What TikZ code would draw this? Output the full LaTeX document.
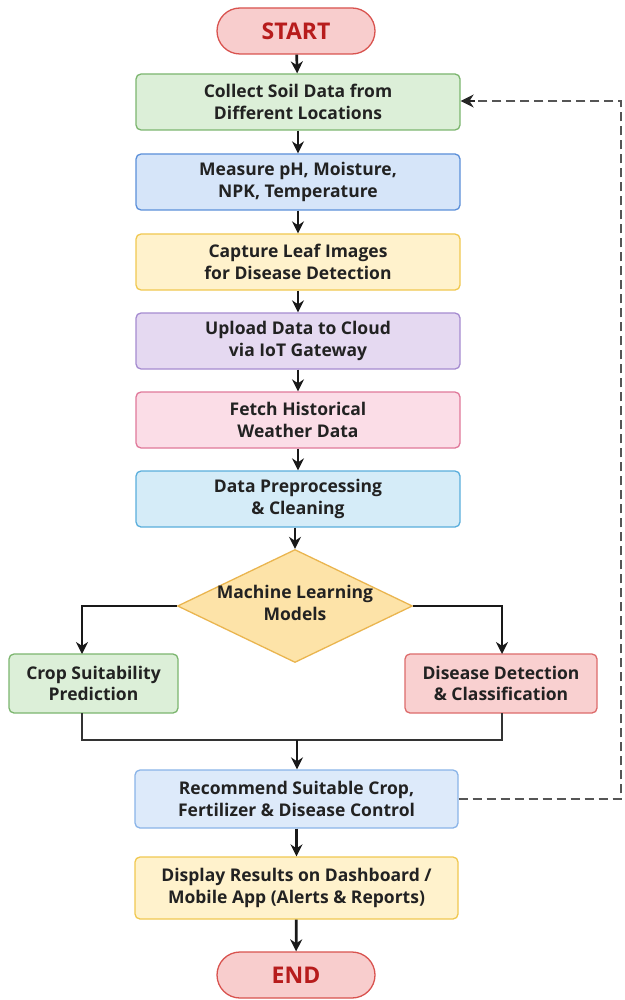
\documentclass[tikz,border=0pt]{standalone}
\usepackage{fontspec}
\setmainfont{Open Sans}
\usetikzlibrary{shapes.geometric,shapes.misc,arrows.meta}
\definecolor{txt}{HTML}{222222}
\definecolor{termfill}{HTML}{F8CDCD}
\definecolor{termdraw}{HTML}{D9534F}
\definecolor{termtxt}{HTML}{B71C1C}
\definecolor{grfill}{HTML}{DCEFD8}
\definecolor{grdraw}{HTML}{7CB66F}
\definecolor{blfill}{HTML}{D6E5F9}
\definecolor{bldraw}{HTML}{5B8FD9}
\definecolor{yefill}{HTML}{FFF2CC}
\definecolor{yedraw}{HTML}{F0C850}
\definecolor{pufill}{HTML}{E5D9F1}
\definecolor{pudraw}{HTML}{A58BD0}
\definecolor{pkfill}{HTML}{FBDDE7}
\definecolor{pkdraw}{HTML}{E0789A}
\definecolor{lbfill}{HTML}{D5ECF8}
\definecolor{lbdraw}{HTML}{5AAEDC}
\definecolor{dmfill}{HTML}{FDE3A8}
\definecolor{dmdraw}{HTML}{EAB54F}
\definecolor{rdfill}{HTML}{F9D0D0}
\definecolor{rddraw}{HTML}{DD6B6B}
\definecolor{rcfill}{HTML}{DDEAFA}
\definecolor{rcdraw}{HTML}{8AB4E8}
\definecolor{dashc}{HTML}{555555}
\tikzset{
  base/.style={draw, line width=1.3pt, align=center, text=txt, inner sep=0pt,
    font=\fontsize{17.5}{21.5}\selectfont\bfseries},
  box/.style={base, rounded corners=5pt, minimum width=324pt, minimum height=56pt},
  term/.style={base, rounded rectangle, fill=termfill, draw=termdraw, text=termtxt,
    minimum width=158pt, minimum height=46pt, font=\fontsize{23}{26}\selectfont\bfseries},
  dec/.style={base, diamond, aspect=2.08, fill=dmfill, draw=dmdraw,
    minimum width=235pt, minimum height=113pt},
  arr/.style={-{Stealth[length=12pt,width=12pt]}, line width=2.7pt, black!90},
  ln/.style={line width=2.7pt, black!80},
  dsh/.style={line width=2.6pt, dashc, dash pattern=on 9pt off 5pt},
}
\begin{document}
\begin{tikzpicture}[x=1pt,y=-1pt]
\fill[white] (0,0) rectangle (624,1000);
\useasboundingbox (0,0) rectangle (624,1000);

\node[term] (start) at (296,31) {START};
\node[box, fill=grfill, draw=grdraw] (collect) at (298,102) {Collect Soil Data from\\Different Locations};
\node[box, fill=blfill, draw=bldraw] (measure) at (298,182) {Measure pH, Moisture,\\NPK, Temperature};
\node[box, fill=yefill, draw=yedraw] (capture) at (298,262) {Capture Leaf Images\\for Disease Detection};
\node[box, fill=pufill, draw=pudraw] (upload) at (298,341) {Upload Data to Cloud\\via IoT Gateway};
\node[box, fill=pkfill, draw=pkdraw] (fetch) at (298,420) {Fetch Historical\\Weather Data};
\node[box, fill=lbfill, draw=lbdraw] (prep) at (298,499) {Data Preprocessing\\\& Cleaning};
\node[dec] (ml) at (295,606) {\phantom{M}};
\node[base, draw=none] (mltxt) at (295,603) {Machine Learning\\Models};
\node[box, fill=grfill, draw=grdraw, minimum width=169pt, minimum height=59pt] (crop) at (93.5,683.5) {Crop Suitability\\Prediction};
\node[box, fill=rdfill, draw=rddraw, minimum width=192pt, minimum height=59pt] (dis) at (501,683.5) {Disease Detection\\\& Classification};
\node[box, fill=rcfill, draw=rcdraw, minimum width=323pt, minimum height=58pt] (rec) at (296.5,799) {Recommend Suitable Crop,\\Fertilizer \& Disease Control};
\node[box, fill=yefill, draw=yedraw, minimum width=323pt, minimum height=62pt] (disp) at (296.5,888) {Display Results on Dashboard /\\Mobile App (Alerts \& Reports)};
\node[term] (end) at (296,975) {END};

\coordinate (cropin) at (82,654);
\coordinate (cropout) at (82,713);
\coordinate (disin) at (502,654);
\coordinate (disout) at (502,713);
\coordinate (mergeL) at (82,740);
\coordinate (mergeM) at (297,740);
\coordinate (mergeR) at (502,740);
\coordinate (fbA) at (621,799);
\coordinate (fbB) at (621,101);

\draw[arr] (start) -- (collect);
\draw[arr] (collect) -- (measure);
\draw[arr] (measure) -- (capture);
\draw[arr] (capture) -- (upload);
\draw[arr] (upload) -- (fetch);
\draw[arr] (fetch) -- (prep);
\draw[arr] (prep.south -| ml.north) -- (ml.north);
\draw[arr] (ml.west) -| (cropin);
\draw[arr] (ml.east) -| (disin);
\draw[ln] (cropout) -- (mergeL) -- (mergeR) -- (disout);
\draw[arr] (mergeM) -- (rec.north -| mergeM);
\draw[arr] (rec) -- (disp);
\draw[arr] (disp) -- (end);
\draw[dsh] (rec.east) -- (fbA) -- (fbB) -- ([xshift=12pt]collect.east |- fbB);
\draw[-{Stealth[length=13pt,width=13pt]}, line width=2.6pt, black!85] ([xshift=14pt]collect.east |- fbB) -- (collect.east |- fbB);
\end{tikzpicture}
\end{document}
